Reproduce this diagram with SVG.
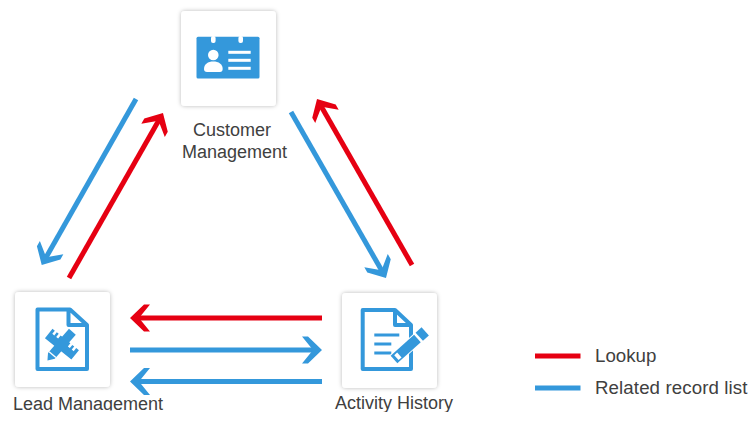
<svg xmlns="http://www.w3.org/2000/svg" width="750" height="422" viewBox="0 0 750 422">
<style>
.card{fill:#fff;filter:url(#sh)}
.t{font-family:"Liberation Sans",Arial,sans-serif;font-size:18px;fill:#404040;text-anchor:middle}
.lg{font-family:"Liberation Sans",Arial,sans-serif;font-size:18.7px;fill:#404040}
.r{stroke:#e60012;stroke-width:5;fill:none}
.b{stroke:#3498db;stroke-width:5;fill:none}
.doc{fill:none;stroke:#3498db;stroke-width:4;stroke-linejoin:round}
.fb{fill:#3498db}
</style>
<defs>
<filter id="sh" x="-15%" y="-15%" width="130%" height="130%"><feDropShadow dx="0" dy="0" stdDeviation="2.2" flood-color="#000" flood-opacity="0.28"/></filter>
<marker id="hr" markerUnits="userSpaceOnUse" viewBox="-16 -15 24 30" refX="0" refY="0" markerWidth="24" markerHeight="30" orient="auto"><path d="M6 0-8-13.5H-14L-3 0-14 13.5H-8Z" fill="#e60012"/></marker>
<marker id="hb" markerUnits="userSpaceOnUse" viewBox="-16 -15 24 30" refX="0" refY="0" markerWidth="24" markerHeight="30" orient="auto"><path d="M6 0-8-13.5H-14L-3 0-14 13.5H-8Z" fill="#3498db"/></marker>
<clipPath id="cl"><rect x="0" y="390" width="300" height="20.5"/></clipPath>
<clipPath id="cl2"><rect x="300" y="390" width="200" height="22"/></clipPath>
</defs>

<g id="connectors">
<line class="b" x1="136" y1="99" x2="44.7" y2="259.8" marker-end="url(#hb)"/>
<line class="r" x1="69" y1="278" x2="160" y2="118.2" marker-end="url(#hr)"/>
<line class="r" x1="412" y1="265" x2="320" y2="104.2" marker-end="url(#hr)"/>
<line class="b" x1="291" y1="112" x2="383" y2="272.8" marker-end="url(#hb)"/>
<line class="r" x1="322" y1="318" x2="136" y2="318" marker-end="url(#hr)"/>
<line class="b" x1="130" y1="350" x2="316" y2="350" marker-end="url(#hb)"/>
<line class="b" x1="322" y1="381.5" x2="136" y2="381.5" marker-end="url(#hb)"/>
</g>

<g id="customer-management">
<rect class="card" x="181" y="11" width="95" height="95" rx="4"/>
<rect class="fb" x="196.5" y="36.7" width="63" height="41.8" rx="1.5"/>
<rect x="211" y="36" width="4.6" height="7" rx="2" fill="#fff"/>
<rect x="238.4" y="36" width="4.6" height="7" rx="2" fill="#fff"/>
<circle cx="213.3" cy="55" r="5.3" fill="#fff"/>
<path d="M204 69C204 64 208 61.5 213.3 61.5S222.7 64 222.7 69C222.7 71 221.5 72 220 72H207C205 72 204 71 204 69Z" fill="#fff"/>
<rect x="228.3" y="50.8" width="22.4" height="3" fill="#fff"/>
<rect x="228.3" y="58.8" width="22.4" height="3" fill="#fff"/>
<rect x="228.3" y="66.8" width="22.4" height="3" fill="#fff"/>
<text class="t" x="232" y="136">Customer</text>
<text class="t" x="234.5" y="158">Management</text>
</g>

<g id="lead-management">
<rect class="card" x="15" y="292" width="95" height="95" rx="4"/>
<path class="doc" d="M37.5 309.5H70L87 325V369H37.5ZM68.5 309.5V325H87"/>
<g transform="rotate(39 61.7 344)">
<path class="fb" d="M45 338H48V342H50.5V338H53V342H55.5V338H68V342H70.5V338H73V342H75.5V338H79V350H45Z"/>
</g>
<g transform="rotate(-49 61.7 344)">
<path class="fb" d="M46 339.5H78V348.5H46L40 344Z"/>
<rect x="47" y="339.5" width="1.3" height="9" fill="#fff"/>
</g>
<text class="t" x="88" y="409.5" clip-path="url(#cl)">Lead Management</text>
</g>

<g id="activity-history">
<rect class="card" x="342" y="293" width="95" height="95" rx="4"/>
<path class="doc" d="M362.7 310H395L411 325V369H362.7ZM395 310V325H411"/>
<rect class="fb" x="374.3" y="333.5" width="25" height="3"/>
<rect class="fb" x="374.3" y="342.5" width="17" height="3"/>
<rect class="fb" x="374.3" y="351.5" width="17" height="3"/>
<g transform="rotate(-42 394 359.5)">
<path d="M394 359.5 394 353.5H428.5V365.5H394Z" fill="#fff"/>
<path d="M394 359.5 394 354.5H425.5V364.5H394Z" fill="#3498db"/>
<rect x="428" y="354" width="8" height="11" fill="#3498db"/>
<path d="M397 356.5 401 356.5V363 H397Z" fill="#fff"/>
</g>
<text class="t" x="394" y="409" clip-path="url(#cl2)">Activity History</text>
</g>

<g id="legend">
<line class="r" x1="535" y1="356" x2="580.5" y2="356"/>
<line class="b" x1="535" y1="388" x2="580.5" y2="388"/>
<text class="lg" x="595" y="361.5">Lookup</text>
<text class="lg" x="595" y="393.5" letter-spacing="0.1">Related record list</text>
</g>
</svg>
